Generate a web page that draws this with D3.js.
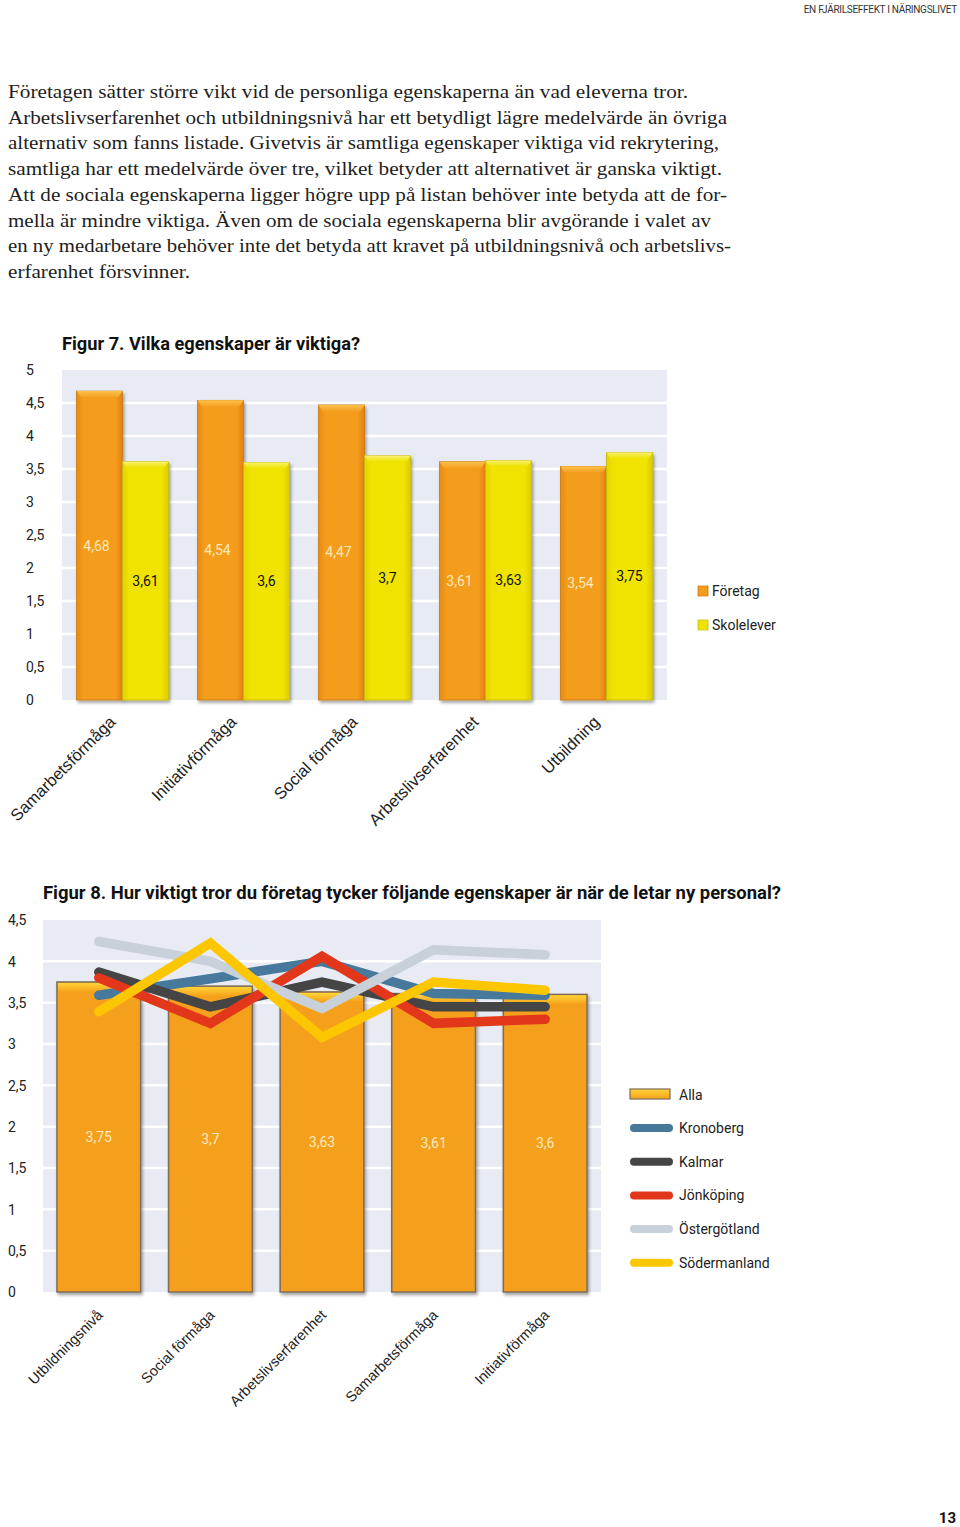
<!DOCTYPE html>
<html><head><meta charset="utf-8">
<script src="https://cdnjs.cloudflare.com/ajax/libs/d3/7.8.5/d3.min.js"></script>
<style>
html,body{margin:0;padding:0;background:#fff;}
svg{display:block;}
</style></head>
<body>
<script>
// ---------- DATA ----------
const headerText = "EN FJÄRILSEFFEKT I NÄRINGSLIVET";
const bodyLines = [
 "Företagen sätter större vikt vid de personliga egenskaperna än vad eleverna tror.",
 "Arbetslivserfarenhet och utbildningsnivå har ett betydligt lägre medelvärde än övriga",
 "alternativ som fanns listade. Givetvis är samtliga egenskaper viktiga vid rekrytering,",
 "samtliga har ett medelvärde över tre, vilket betyder att alternativet är ganska viktigt.",
 "Att de sociala egenskaperna ligger högre upp på listan behöver inte betyda att de for-",
 "mella är mindre viktiga. Även om de sociala egenskaperna blir avgörande i valet av",
 "en ny medarbetare behöver inte det betyda att kravet på utbildningsnivå och arbetslivs-",
 "erfarenhet försvinner."
];
const bodyLineWidths = [680, 719, 711, 714, 719, 703, 723, 182];

const fig7Title = "Figur 7. Vilka egenskaper är viktiga?";
const fig7Categories = ["Samarbetsförmåga","Initiativförmåga","Social förmåga","Arbetslivserfarenhet","Utbildning"];
const fig7Foretag = [4.68, 4.54, 4.47, 3.61, 3.54];
const fig7Skolelever = [3.61, 3.6, 3.7, 3.63, 3.75];
const fig7SeriesNames = ["Företag","Skolelever"];
const fig7Ticks = [0,0.5,1,1.5,2,2.5,3,3.5,4,4.5,5];

const fig8Title = "Figur 8. Hur viktigt tror du företag tycker följande egenskaper är när de letar ny personal?";
const fig8Categories = ["Utbildningsnivå","Social förmåga","Arbetslivserfarenhet","Samarbetsförmåga","Initiativförmåga"];
const fig8Alla = [3.75, 3.7, 3.63, 3.61, 3.6];
const fig8Kronoberg = [3.59, 3.79, 4.0, 3.61, 3.59];
const fig8Kalmar = [3.87, 3.45, 3.75, 3.45, 3.45];
const fig8Jonkoping = [3.80, 3.25, 4.06, 3.25, 3.30];
const fig8Ostergotland = [4.24, 4.0, 3.43, 4.14, 4.08];
const fig8Sodermanland = [3.39, 4.22, 3.08, 3.75, 3.65];
const fig8LineNames = ["Kronoberg","Kalmar","Jönköping","Östergötland","Södermanland"];
const fig8Ticks = [0,0.5,1,1.5,2,2.5,3,3.5,4,4.5];
const pageNumber = "13";

// ---------- HELPERS ----------
const fmt = v => String(v).replace(".", ",");
const W = 960, H = 1527;
const svg = d3.select("body").append("svg").attr("width", W).attr("height", H);
const defs = svg.append("defs");
const sansC = "Roboto, 'DejaVu Sans', sans-serif";

function hGrad(id, stops){
  const g = defs.append("linearGradient").attr("id", id).attr("x1","0").attr("x2","1").attr("y1","0").attr("y2","0");
  stops.forEach(s => g.append("stop").attr("offset", s[0]).attr("stop-color", s[1]));
}
function vGrad(id, stops){
  const g = defs.append("linearGradient").attr("id", id).attr("x1","0").attr("x2","0").attr("y1","0").attr("y2","1");
  stops.forEach(s => g.append("stop").attr("offset", s[0]).attr("stop-color", s[1]));
}
hGrad("gOrange", [[0,"#e98a12"],[0.15,"#f49c1c"],[0.85,"#f49c1c"],[1,"#e27f10"]]);
hGrad("gYellow", [[0,"#e3d400"],[0.15,"#f0e300"],[0.85,"#f0e300"],[1,"#dccc00"]]);
vGrad("gOrangeTop", [[0,"#fbc04a"],[1,"#f5a324"]]);
vGrad("gYellowTop", [[0,"#f8f170"],[1,"#f0e300"]]);
vGrad("gAllaTop", [[0,"#ffd43a"],[1,"#f5a11a"]]);
const sh = defs.append("filter").attr("id","shadow").attr("x","-20%").attr("y","-10%").attr("width","140%").attr("height","130%");
sh.append("feDropShadow").attr("dx",1.5).attr("dy",2.5).attr("stdDeviation",1.8).attr("flood-color","#000").attr("flood-opacity",0.35);

// ---------- HEADER ----------
svg.append("text").attr("x", 957).attr("y", 13).attr("text-anchor","end")
  .attr("font-family", sansC).attr("font-size", 10).attr("letter-spacing", -0.3).attr("fill","#333")
  .text(headerText);

// ---------- BODY TEXT ----------
svg.append("g").selectAll("text").data(bodyLines).join("text")
  .attr("x", 8).attr("y", (d,i) => 98 + i*25.7)
  .attr("font-family", "'Liberation Serif', 'DejaVu Serif', serif").attr("font-size", 19.5)
  .attr("fill", "#1e1e1e")
  .attr("textLength", (d,i) => bodyLineWidths[i]).attr("lengthAdjust","spacingAndGlyphs")
  .text(d => d);

// ---------- FIGURE 7 ----------
{
  const x0 = d3.scaleBand().domain(fig7Categories).range([62, 667]).paddingInner(0).paddingOuter(0);
  const x1 = d3.scaleBand().domain(fig7SeriesNames).range([0, x0.bandwidth()]).paddingOuter(0.315).paddingInner(0);
  const y = d3.scaleLinear().domain([0,5]).range([700, 370]);
  const g = svg.append("g");

  g.append("text").attr("x", 62).attr("y", 350).attr("font-family", sansC).attr("font-weight", 700)
    .attr("font-size", 18).attr("fill","#111").attr("textLength", 298).attr("lengthAdjust","spacingAndGlyphs").text(fig7Title);

  g.append("rect").attr("x", 62).attr("y", y(5)).attr("width", 605).attr("height", y(0)-y(5)).attr("fill","#e8ebf3");
  g.selectAll("line.grid").data(fig7Ticks.filter(t => t>0 && t<5)).join("line")
    .attr("x1", 62).attr("x2", 667).attr("y1", d => y(d)).attr("y2", d => y(d))
    .attr("stroke","#fff").attr("stroke-width", 2.5);

  const yAxis = d3.axisLeft(y).tickValues(fig7Ticks).tickFormat(fmt).tickSize(0);
  const ya = g.append("g").attr("transform","translate(26,0)").call(yAxis);
  ya.select(".domain").remove();
  ya.selectAll("text").attr("text-anchor","start").attr("x",0).attr("dy","0.35em")
    .attr("font-family", sansC).attr("font-size", 14).attr("fill","#222");

  const series = [fig7Foretag, fig7Skolelever];
  const fills = ["url(#gOrange)","url(#gYellow)"];
  const tops = ["url(#gOrangeTop)","url(#gYellowTop)"];
  const labelFill = ["#fde9b8","#111"];
  series.forEach((vals, si) => {
    const sg = g.append("g");
    const bw = x1.bandwidth();
    const bx = (d,i) => x0(fig7Categories[i]) + x1(fig7SeriesNames[si]);
    sg.selectAll("rect.bar").data(vals).join("rect")
      .attr("x", bx).attr("y", d => y(d)).attr("width", bw).attr("height", d => y(0)-y(d))
      .attr("fill", fills[si]).attr("stroke", si===0 ? "#c77a14" : "#c9bb10").attr("stroke-width", 0.8)
      .attr("filter","url(#shadow)");
    sg.selectAll("path.top").data(vals).join("path")
      .attr("d", (d,i) => { const X = bx(d,i), Y = y(d); return `M${X},${Y}L${X+bw},${Y}L${X+bw-4},${Y+6}L${X+4},${Y+6}Z`; })
      .attr("fill", tops[si]);
    sg.selectAll("text").data(vals).join("text")
      .attr("x", (d,i) => bx(d,i) + bw/2 - (si===0?3:0)).attr("y", d => y(d/2) + 5)
      .attr("text-anchor","middle").attr("font-family", sansC).attr("font-size", 14)
      .attr("fill", labelFill[si]).text(d => fmt(d));
  });

  // x labels
  g.selectAll("text.xl").data(fig7Categories).join("text")
    .attr("transform", d => `translate(${x0(d) + x0.bandwidth()/2 - 6},${723}) rotate(-45)`)
    .attr("text-anchor","end").attr("font-family","'Liberation Sans', Arial, sans-serif")
    .attr("font-size", 16.5).attr("fill","#222").text(d => d);

  // legend
  const lg = g.append("g");
  fig7SeriesNames.forEach((n, i) => {
    lg.append("rect").attr("x", 698).attr("y", 586 + i*34).attr("width", 10).attr("height", 10)
      .attr("fill", fills[i]).attr("stroke", i===0?"#d5841a":"#cfc21a").attr("stroke-width",0.8);
    lg.append("text").attr("x", 712).attr("y", 596 + i*34).attr("font-family", sansC).attr("font-size", 14)
      .attr("fill","#222").text(n);
  });
}

// ---------- FIGURE 8 ----------
{
  const x = d3.scaleBand().domain(fig8Categories).range([43, 601]).paddingInner(0.25).paddingOuter(0.125);
  const y = d3.scaleLinear().domain([0,4.5]).range([1292, 920]);
  const g = svg.append("g");

  g.append("text").attr("x", 43).attr("y", 899).attr("font-family", sansC).attr("font-weight", 700)
    .attr("font-size", 18).attr("fill","#111").attr("textLength", 738).attr("lengthAdjust","spacingAndGlyphs").text(fig8Title);

  g.append("rect").attr("x", 43).attr("y", y(4.5)).attr("width", 558).attr("height", y(0)-y(4.5)).attr("fill","#e8ebf3");
  g.selectAll("line.grid").data(fig8Ticks.filter(t => t>0 && t<4.5)).join("line")
    .attr("x1", 43).attr("x2", 601).attr("y1", d => y(d)).attr("y2", d => y(d))
    .attr("stroke","#fff").attr("stroke-width", 2.5);

  const yAxis = d3.axisLeft(y).tickValues(fig8Ticks).tickFormat(fmt).tickSize(0);
  const ya = g.append("g").attr("transform","translate(8,0)").call(yAxis);
  ya.select(".domain").remove();
  ya.selectAll("text").attr("text-anchor","start").attr("x",0).attr("dy","0.35em")
    .attr("font-family", sansC).attr("font-size", 14).attr("fill","#222");

  const bw = x.bandwidth();
  g.selectAll("rect.bar").data(fig8Alla).join("rect")
    .attr("x", (d,i) => x(fig8Categories[i])).attr("y", d => y(d)).attr("width", bw).attr("height", d => y(0)-y(d))
    .attr("fill","#f5a01a").attr("stroke","#7d6c5a").attr("stroke-width",1.5).attr("filter","url(#shadow)");
  g.selectAll("rect.top").data(fig8Alla).join("rect")
    .attr("x", (d,i) => x(fig8Categories[i]) + 1).attr("y", d => y(d) + 1).attr("width", bw - 2).attr("height", 9)
    .attr("fill","url(#gAllaTop)");
  g.selectAll("text.val").data(fig8Alla).join("text")
    .attr("x", (d,i) => x(fig8Categories[i]) + bw/2).attr("y", d => y(d/2) + 5)
    .attr("text-anchor","middle").attr("font-family", sansC).attr("font-size", 14)
    .attr("fill","#fde9bd").text(d => fmt(d));

  const lineSeries = [fig8Kronoberg, fig8Kalmar, fig8Jonkoping, fig8Ostergotland, fig8Sodermanland];
  const lineColors = ["#46799c","#454545","#e3371b","#c8d0da","#fcc700"];
  const line = d3.line().x((d,i) => x(fig8Categories[i]) + bw/2).y(d => y(d));
  lineSeries.forEach((vals, si) => {
    g.append("path").attr("d", line(vals)).attr("fill","none").attr("stroke", lineColors[si])
      .attr("stroke-width", 9.5).attr("stroke-linecap","round").attr("stroke-linejoin","miter");
  });

  g.selectAll("text.xl").data(fig8Categories).join("text")
    .attr("transform", d => `translate(${x(d) + bw/2 + 5},${1316}) rotate(-45)`)
    .attr("text-anchor","end").attr("font-family","'Liberation Sans', Arial, sans-serif")
    .attr("font-size", 14.5).attr("fill","#222").text(d => d);

  // legend
  const lg = g.append("g");
  lg.append("rect").attr("x", 630).attr("y", 1089).attr("width", 40).attr("height", 10)
    .attr("fill","url(#gAllaTop)").attr("stroke","#7d6c5a").attr("stroke-width",1.2);
  lg.append("text").attr("x", 679).attr("y", 1100).attr("font-family", sansC).attr("font-size", 14).attr("fill","#222").text("Alla");
  fig8LineNames.forEach((n, i) => {
    const cy = 1128 + i*33.7;
    lg.append("line").attr("x1", 634).attr("x2", 669).attr("y1", cy).attr("y2", cy)
      .attr("stroke", lineColors[i]).attr("stroke-width", 8).attr("stroke-linecap","round");
    lg.append("text").attr("x", 679).attr("y", cy + 5).attr("font-family", sansC).attr("font-size", 14).attr("fill","#222").text(n);
  });
}

// ---------- PAGE NUMBER ----------
svg.append("text").attr("x", 956).attr("y", 1523).attr("text-anchor","end")
  .attr("font-family", sansC).attr("font-weight",700).attr("font-size", 15).attr("fill","#111").text(pageNumber);
</script>
</body></html>
